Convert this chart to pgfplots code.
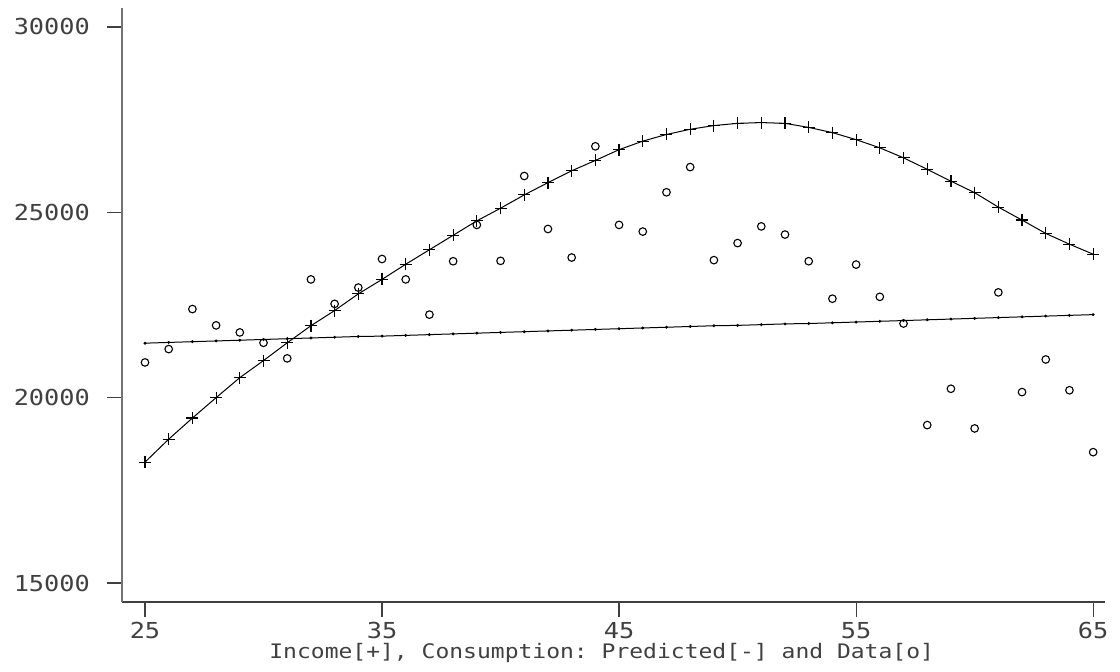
\documentclass[border=0pt]{standalone}
\usepackage{fontspec}
\setmonofont[FakeStretch=1.15]{DejaVu Sans Mono}
\usepackage{pgfplots}
\usepackage{pgfplotstable}
\pgfplotsset{compat=1.18}

% age, income, predicted consumption, observed consumption
\pgfplotstableread{
x  income predicted data
25 18260 21470 20950
26 18880 21490 21310
27 19450 21510 22390
28 20000 21530 21950
29 20540 21550 21760
30 21000 21570 21480
31 21480 21590 21060
32 21940 21610 23190
33 22350 21630 22530
34 22800 21650 22970
35 23190 21660 23740
36 23600 21680 23190
37 23990 21700 22240
38 24380 21720 23680
39 24770 21740 24660
40 25110 21760 23690
41 25470 21780 25980
42 25800 21800 24550
43 26120 21820 23780
44 26400 21840 26780
45 26690 21860 24660
46 26920 21880 24480
47 27100 21900 25540
48 27240 21920 26220
49 27340 21940 23710
50 27400 21950 24170
51 27420 21970 24620
52 27400 21990 24400
53 27290 22000 23680
54 27150 22020 22670
55 26960 22040 23590
56 26740 22060 22720
57 26470 22080 22000
58 26160 22100 19260
59 25840 22120 20240
60 25530 22140 19170
61 25140 22160 22840
62 24790 22180 20150
63 24430 22200 21030
64 24140 22220 20200
65 23870 22240 18530
}\cons

\begin{document}
\begin{tikzpicture}
\begin{axis}[
  name=ax,
  scale only axis,
  width=491.5pt, height=297pt,
  xmin=24.03, xmax=65.5,
  ymin=14488, ymax=30512,
  axis x line=bottom, axis y line=left,
  axis line style={-, line width=0.6pt},
  x axis line style={black!75},
  y axis line style={black!55},
  xtick={25,35,45,55,65},
  ytick={15000,20000,25000,30000},
  tick align=outside,
  major tick length=7.5pt,
  tick style={black!75, line width=0.6pt},
  scaled y ticks=false,
  /pgf/number format/1000 sep={},
  /pgf/number format/assume math mode=true,
  ticklabel style={font=\ttfamily\fontsize{11}{13}\selectfont, text=black!75},
  xticklabel style={yshift=1pt},
  yticklabel style={xshift=-5pt},
  xlabel={Income[+], Consumption: Predicted[-] and Data[o]},
  xlabel style={font=\ttfamily\fontsize{10}{12}\selectfont, text=black!75,
    at={(axis description cs:0.488,0)}, anchor=north, inner sep=0pt, yshift=-20.5pt},
]
\addplot[black, line width=0.5pt, mark=+, mark size=3pt,
  mark options={line width=0.6pt}] table[x=x, y=income] {\cons};
\addplot[black, line width=0.5pt, mark=*, mark size=0.45pt] table[x=x, y=predicted] {\cons};
\addplot[black, only marks, mark=o, mark size=1.9pt,
  mark options={line width=0.55pt}] table[x=x, y=data] {\cons};
\end{axis}
\path (ax.south west) ++(-61pt,-35pt) rectangle ++(560pt,336pt);
\end{tikzpicture}
\end{document}
